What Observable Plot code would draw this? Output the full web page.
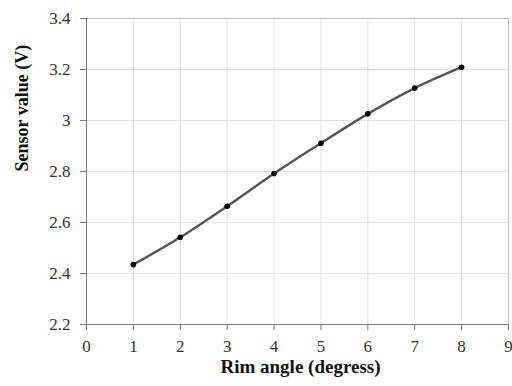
<!DOCTYPE html>
<html>
<head>
<meta charset="utf-8">
<script src="https://cdn.jsdelivr.net/npm/d3@7"></script>
<script src="https://cdn.jsdelivr.net/npm/@observablehq/plot@0.6"></script>
<style>
  html, body { margin: 0; padding: 0; background: #fff; }
</style>
</head>
<body>
<div id="chart"></div>
<script>
const angles = [1, 2, 3, 4, 5, 6, 7, 8];
const sensorValues = [2.435, 2.542, 2.664, 2.792, 2.911, 3.026, 3.127, 3.209];
const xTicks = [0, 1, 2, 3, 4, 5, 6, 7, 8, 9];
const yTicks = [2.2, 2.4, 2.6, 2.8, 3.0, 3.2, 3.4];
const xTitle = "Rim angle (degress)";
const yTitle = "Sensor value (V)";

const data = angles.map((a, i) => ({angle: a, value: sensorValues[i]}));
const serif = "'Liberation Serif', 'Times New Roman', serif";

const chart = Plot.plot({
  width: 512,
  height: 386,
  marginLeft: 86,
  marginRight: 4,
  marginTop: 18,
  marginBottom: 62,
  style: {fontFamily: serif, fontSize: "17px", color: "#333", background: "#fff"},
  x: {domain: [0, 9]},
  y: {domain: [2.2, 3.4]},
  marks: [
    Plot.gridX(xTicks, {stroke: "#e2e2e2", strokeOpacity: 1}),
    Plot.gridY(yTicks, {stroke: "#e2e2e2", strokeOpacity: 1}),
    Plot.frame({stroke: "#bdbdbd"}),
    Plot.ruleX([0], {stroke: "#777"}),
    Plot.ruleY([2.2], {stroke: "#777"}),
    Plot.axisX(xTicks, {tickSize: 6, tickPadding: 9, fontSize: 17, fontFamily: serif, fontVariant: "normal", fill: "#333", stroke: "#777", label: null, tickFormat: d => String(d)}),
    Plot.axisY(yTicks, {tickSize: 6, tickPadding: 10, fontSize: 17, fontFamily: serif, fontVariant: "normal", fill: "#333", stroke: "#777", label: null, tickFormat: d => String(+d.toFixed(1))}),
    Plot.line(data, {x: "angle", y: "value", curve: "catmull-rom", stroke: "#555", strokeWidth: 2.4}),
    Plot.dot(data, {x: "angle", y: "value", r: 2.8, fill: "#000", stroke: "none"}),
    Plot.text([xTitle], {frameAnchor: "bottom", dx: 3, dy: 48, fontWeight: "bold", fontSize: 19, fontFamily: serif, fill: "#111"}),
    Plot.text([yTitle], {frameAnchor: "left", dx: -64, rotate: -90, fontWeight: "bold", fontSize: 18, fontFamily: serif, fill: "#111"})
  ]
});
document.getElementById("chart").appendChild(chart);
</script>
</body>
</html>
